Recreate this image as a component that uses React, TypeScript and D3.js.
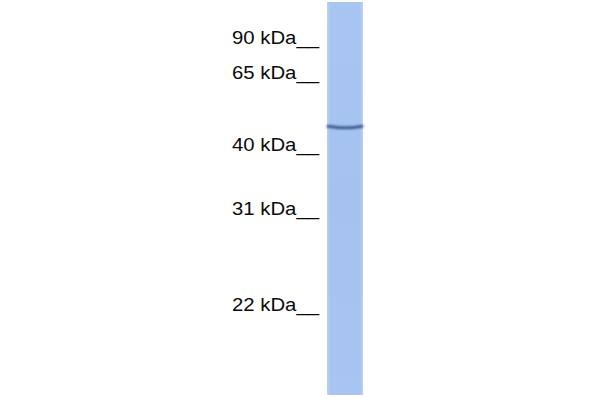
import { useEffect, useRef } from 'react';
import * as d3 from 'd3';

// marker ladder: label and relative migration (0 = top of lane, 1 = bottom)
const markerLabels = ['90 kDa', '65 kDa', '40 kDa', '31 kDa', '22 kDa'];
const markerMigration = [0.107, 0.196, 0.379, 0.542, 0.786];

// detected band(s) in the sample lane
const bandMigration = [0.319];
const bandIntensity = [0.9];

const App = () => {
  const svgRef = useRef<SVGSVGElement>(null);

  const width = 600;
  const height = 400;

  useEffect(() => {
    if (!svgRef.current) return;

    const svg = d3.select(svgRef.current);
    svg.selectAll('*').remove();

    svg.attr('width', width).attr('height', height);

    svg.append('rect')
      .attr('width', width)
      .attr('height', height)
      .attr('fill', 'white');

    const laneLeft = 327;
    const laneWidth = 36;

    const y = d3.scaleLinear().domain([0, 1]).range([2, 395]);

    const defs = svg.append('defs');

    // lane fill gradient
    const laneGrad = defs.append('linearGradient')
      .attr('id', 'laneGrad')
      .attr('x1', 0).attr('x2', 0).attr('y1', 0).attr('y2', 1);
    laneGrad.append('stop').attr('offset', '0%').attr('stop-color', '#a9c5f2');
    laneGrad.append('stop').attr('offset', '50%').attr('stop-color', '#a5c2ee');
    laneGrad.append('stop').attr('offset', '100%').attr('stop-color', '#a8c4f0');

    const laneEdge = defs.append('linearGradient')
      .attr('id', 'laneEdge')
      .attr('x1', 0).attr('x2', 1).attr('y1', 0).attr('y2', 0);
    laneEdge.append('stop').attr('offset', '0%').attr('stop-color', '#ffffff').attr('stop-opacity', 0.25);
    laneEdge.append('stop').attr('offset', '8%').attr('stop-color', '#ffffff').attr('stop-opacity', 0);
    laneEdge.append('stop').attr('offset', '92%').attr('stop-color', '#ffffff').attr('stop-opacity', 0);
    laneEdge.append('stop').attr('offset', '100%').attr('stop-color', '#ffffff').attr('stop-opacity', 0.25);

    // band blur
    defs.append('filter')
      .attr('id', 'bandBlur')
      .attr('x', '-20%').attr('y', '-200%').attr('width', '140%').attr('height', '500%')
      .append('feGaussianBlur')
      .attr('stdDeviation', 0.9);

    // lane
    svg.append('rect')
      .attr('x', laneLeft)
      .attr('y', y(0))
      .attr('width', laneWidth)
      .attr('height', y(1) - y(0))
      .attr('fill', 'url(#laneGrad)');

    svg.append('rect')
      .attr('x', laneLeft)
      .attr('y', y(0))
      .attr('width', laneWidth)
      .attr('height', y(1) - y(0))
      .attr('fill', 'url(#laneEdge)');

    // bands
    const bandLine = d3.line<[number, number]>().curve(d3.curveBasis);

    bandMigration.forEach((m, i) => {
      const by = y(m);
      const pts: [number, number][] = [
        [laneLeft + 1, by - 1],
        [laneLeft + laneWidth * 0.3, by + 0.3],
        [laneLeft + laneWidth * 0.5, by + 0.6],
        [laneLeft + laneWidth * 0.75, by + 0.2],
        [laneLeft + laneWidth - 1, by - 1],
      ];
      svg.append('path')
        .attr('d', bandLine(pts))
        .attr('fill', 'none')
        .attr('stroke', '#2f4f86')
        .attr('stroke-width', 3)
        .attr('stroke-linecap', 'round')
        .attr('opacity', bandIntensity[i])
        .attr('filter', 'url(#bandBlur)');
    });

    // marker labels
    svg.selectAll('.marker')
      .data(markerLabels)
      .enter().append('text')
      .attr('class', 'marker')
      .attr('x', 319)
      .attr('y', (_d, i) => y(markerMigration[i]))
      .attr('text-anchor', 'end')
      .attr('textLength', 87)
      .attr('lengthAdjust', 'spacingAndGlyphs')
      .style('font-family', '"Liberation Sans", Arial, sans-serif')
      .style('font-size', '18px')
      .attr('fill', '#0a0a0a')
      .text((d) => `${d}__`);
  }, []);

  return (
    <div style={{ position: 'absolute', left: 0, top: 0 }}>
      <svg ref={svgRef} style={{ display: 'block' }}></svg>
    </div>
  );
};

export default App;
